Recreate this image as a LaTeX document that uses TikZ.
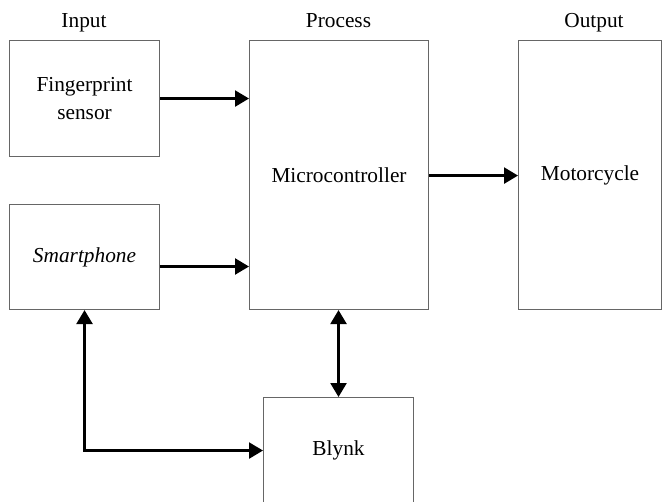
\documentclass[tikz,border=0pt]{standalone}
\usepackage{fontspec}
\setmainfont{Liberation Serif}
\usetikzlibrary{arrows.meta,calc}
\begin{document}
\begin{tikzpicture}[x=0.75pt,y=-0.75pt,
  box/.style={draw=black!60,line width=0.8pt,anchor=north west,inner sep=0pt,align=center,
    font=\fontsize{16}{21}\selectfont},
  lbl/.style={font=\fontsize{16}{21}\selectfont,inner sep=0pt,anchor=base},
  conn/.style={line width=1.8pt,-{Triangle[length=10.5pt,width=12pt]}},
  conn2/.style={line width=1.8pt,{Triangle[length=10.5pt,width=12pt]}-{Triangle[length=10.5pt,width=12pt]}}]
\useasboundingbox (0,0) rectangle (662,501);
\node[box,minimum width=112.5pt,minimum height=87pt] (fp) at (9,40) {Fingerprint\\sensor};
\node[box,minimum width=112.5pt,minimum height=78.75pt] (sp) at (9,204) {\itshape Smartphone};
\node[box,minimum width=134.25pt,minimum height=201.75pt] (mc) at (249,40) {Microcontroller};
\node[box,minimum width=107.25pt,minimum height=201.75pt] (mo) at (518,40) {Motorcycle};
\node[box,minimum width=112.5pt,minimum height=79.5pt] (bl) at (263,397) {Blynk};
\node[lbl] (in) at (84,27) {Input};
\node[lbl] (pr) at (338.5,27) {Process};
\node[lbl] (out) at (594,27) {Output};
\draw[conn] (fp.east) -- (fp.east -| mc.west);
\draw[conn] ([yshift=-7.1pt]sp.east) -- ([yshift=-7.1pt]sp.east -| mc.west);
\draw[conn] ([yshift=-0.4pt]mc.east) -- ([yshift=-0.4pt]mc.east -| mo.west);
\draw[conn2] (bl.north |- mc.south) -- (bl.north);
\draw[conn2] (sp.south) |- (bl.west);
\end{tikzpicture}
\end{document}
